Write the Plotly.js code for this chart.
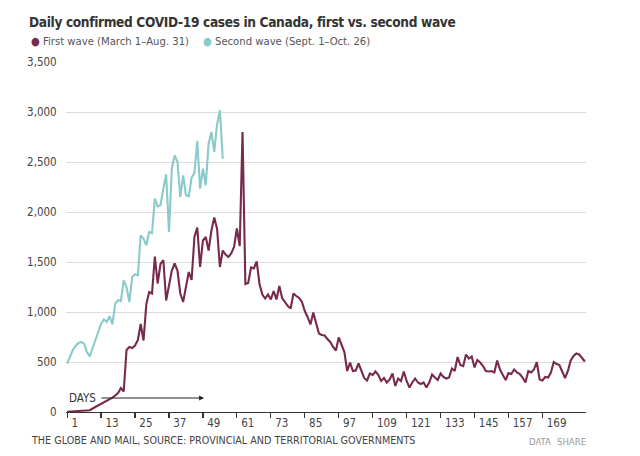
<!DOCTYPE html>
<html><head><meta charset="utf-8">
<script src="https://cdn.plot.ly/plotly-3.0.1.min.js"></script>
<style>html,body{margin:0;padding:0;background:#fff}
.gtitle{letter-spacing:-0.35px}</style>
</head><body><div id="chart" style="width:640px;height:456px"></div>
<script>
const firstWave = [
  3,4,5,6,8,10,12,14,18,35,
  50,60,80,95,110,125,143,165,190,240,
  205,620,650,640,665,720,880,715,1080,1200,
  1185,1555,1285,1480,1520,1115,1265,1415,1485,1415,
  1185,1100,1250,1400,1320,1750,1845,1450,1715,1750,
  1615,1815,1945,1830,1450,1615,1575,1550,1585,1650,
  1835,1660,2800,1280,1290,1445,1435,1505,1280,1175,
  1135,1175,1125,1210,1125,1260,1140,1100,1060,1035,
  1185,1160,1140,1100,1010,950,875,995,880,785,
  770,765,730,700,650,615,745,680,600,410,
  495,410,415,485,410,340,315,385,370,405,
  370,310,340,295,325,385,260,335,310,405,
  310,245,295,335,295,280,295,245,295,375,
  345,320,385,350,335,345,435,410,550,470,
  460,575,535,555,445,520,495,460,410,405,
  410,395,515,425,370,320,390,380,425,395,
  380,345,295,410,395,425,500,325,315,350,
  345,395,500,480,470,395,340,410,515,560,
  585,575,545,505
];
const secondWave = [
  483,560,620,660,690,700,680,600,555,640,
  730,800,880,927,900,957,877,1083,1117,1110,
  1317,1250,1100,1350,1377,1367,1767,1733,1667,1800,
  1790,2133,2057,2067,2233,2377,1800,2433,2567,2500,
  2150,2367,2167,2157,2343,2390,2710,2233,2433,2267,
  2683,2800,2600,2877,3017,2533
];
const xTickVals = [1,13,25,37,49,61,73,85,97,109,121,133,145,157,169];
const yTickVals = [0,500,1000,1500,2000,2500,3000,3500];
const firstLabel = 'First wave (March 1\u2013Aug. 31)';
const secondLabel = 'Second wave (Sept. 1\u2013Oct. 26)';
const titleText = 'Daily confirmed COVID-19 cases in Canada, first vs. second wave';
const sourceText = 'THE GLOBE AND MAIL, SOURCE: PROVINCIAL AND TERRITORIAL GOVERNMENTS';

const FONT = '"Liberation Sans Narrow", "DejaVu Sans Condensed", Roboto, sans-serif';
const MAROON = '#782a4c';
const CYAN = '#8bcaca';

const dayIndex = arr => arr.map((_, i) => i + 1);

const traces = [
  {x: dayIndex(secondWave), y: secondWave, type: 'scatter', mode: 'lines',
   line: {color: CYAN, width: 2.1}, name: secondLabel, hoverinfo: 'skip'},
  {x: dayIndex(firstWave), y: firstWave, type: 'scatter', mode: 'lines',
   line: {color: MAROON, width: 2.1}, name: firstLabel, hoverinfo: 'skip'}
];

const L = 66, R = 586, T = 62, B = 412;
const px = v => (v - L) / (R - L);
const py = v => (B - v) / (B - T);

const layout = {
  width: 640, height: 456,
  margin: {l: L, r: 640 - R, t: T, b: 456 - B, pad: 0},
  paper_bgcolor: '#fff', plot_bgcolor: '#fff',
  showlegend: false,
  font: {family: FONT, color: '#444', size: 11},
  title: {text: titleText, x: 29 / 640, xref: 'container', xanchor: 'left',
          y: 1 - 22.5 / 456, yref: 'container', yanchor: 'middle',
          font: {family: FONT, size: 13.6, color: '#333', weight: 'bold'}},
  xaxis: {range: [0.6, 184.4], tickvals: xTickVals, ticks: 'outside', ticklen: 5,
          tickcolor: '#333', tickwidth: 1.2, showline: true, linecolor: '#333', linewidth: 1.4,
          showgrid: false, zeroline: false, ticklabelposition: 'outside right', ticklabelshift: 3,
          tickfont: {family: FONT, size: 11.5, color: '#444'}, fixedrange: true},
  yaxis: {range: [0, 3500], tickvals: yTickVals, tickformat: ',', showgrid: true,
          gridcolor: '#dcdcdc', gridwidth: 1, showline: false, zeroline: false,
          ticks: 'outside', ticklen: 6, tickcolor: 'rgba(0,0,0,0)',
          tickfont: {family: FONT, size: 11.5, color: '#444'}, fixedrange: true},
  annotations: [
    {xref: 'paper', yref: 'paper', x: px(29), y: py(42), xanchor: 'left', yanchor: 'middle',
     showarrow: false, font: {family: FONT, size: 11.2, color: '#555'},
     text: '<span style="color:' + MAROON + '">\u25CF</span> ' + firstLabel},
    {xref: 'paper', yref: 'paper', x: px(201), y: py(42), xanchor: 'left', yanchor: 'middle',
     showarrow: false, font: {family: FONT, size: 11.2, color: '#555'},
     text: '<span style="color:' + CYAN + '">\u25CF</span> ' + secondLabel},
    {xref: 'x', yref: 'y', x: 1, y: 140, xanchor: 'left', yanchor: 'middle', showarrow: false,
     text: 'DAYS', font: {family: FONT, size: 11.5, color: '#333'}},
    {xref: 'x', yref: 'y', x: 49.4, y: 140, axref: 'x', ayref: 'y', ax: 12.6, ay: 140,
     text: '', showarrow: true, arrowhead: 2, arrowsize: 1, arrowwidth: 1, arrowcolor: '#222',
     standoff: 0, startstandoff: 0},
    {xref: 'paper', yref: 'paper', x: px(29), y: py(440), xanchor: 'left', yanchor: 'middle',
     showarrow: false, text: sourceText, font: {family: FONT, size: 10.7, color: '#444'}},
    {xref: 'paper', yref: 'paper', x: px(527), y: py(442), xanchor: 'left', yanchor: 'middle',
     showarrow: false, text: 'DATA', font: {family: FONT, size: 9.5, color: '#999'}},
    {xref: 'paper', yref: 'paper', x: px(588), y: py(442), xanchor: 'right', yanchor: 'middle',
     showarrow: false, text: 'SHARE', font: {family: FONT, size: 9.5, color: '#999'}}
  ]
};

Plotly.newPlot('chart', traces, layout, {staticPlot: true, displayModeBar: false});
</script>
</body></html>
